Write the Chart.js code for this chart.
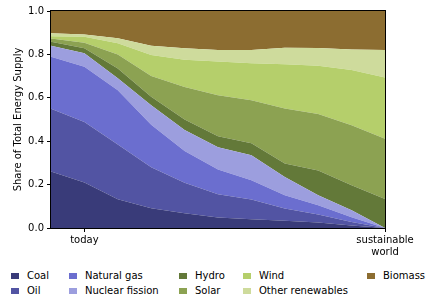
<!DOCTYPE html>
<html>
<head>
<meta charset="utf-8">
<script src="https://cdn.jsdelivr.net/npm/chart.js@4"></script>
<style>
  body { margin: 0; background: #fff; font-family: "DejaVu Sans", sans-serif; }
  #wrap { position: relative; width: 436px; height: 306px; }
  #chartBox { position: absolute; left: 0; top: 0; width: 436px; height: 260px; }
  #legend {
    position: absolute; left: 11px; top: 268px;
    display: grid; grid-template-columns: 58px 110px 64px 124px auto;
    grid-auto-flow: column; grid-template-rows: 15px 15px;
    font-size: 10px; color: #000;
  }
  .item { display: flex; align-items: center; white-space: nowrap; line-height: 15px; }
  .swatch { width: 8px; height: 6px; margin-right: 8px; flex: none; }
</style>
</head>
<body>
<div id="wrap">
  <div id="chartBox"><canvas id="energyChart"></canvas></div>
  <div id="legend"></div>
</div>
<script>
const steps = [0, 1, 2, 3, 4, 5, 6, 7, 8, 9, 10];
const tickPositions = [1, 10];
const tickLabels = ['today', ['sustainable', 'world']];

const sources = ['Coal', 'Oil', 'Natural gas', 'Nuclear fission', 'Hydro', 'Solar', 'Wind', 'Other renewables', 'Biomass'];

const coal     = [0.260, 0.210, 0.133, 0.091, 0.068, 0.048, 0.040, 0.033, 0.025, 0.012, 0.000];
const oil      = [0.290, 0.279, 0.252, 0.189, 0.140, 0.107, 0.091, 0.057, 0.037, 0.016, 0.000];
const gas      = [0.239, 0.254, 0.250, 0.196, 0.147, 0.115, 0.089, 0.061, 0.043, 0.022, 0.000];
const nuclear  = [0.051, 0.062, 0.055, 0.090, 0.097, 0.102, 0.115, 0.084, 0.046, 0.032, 0.000];
const hydro    = [0.018, 0.023, 0.045, 0.039, 0.048, 0.051, 0.055, 0.062, 0.114, 0.115, 0.134];
const solar    = [0.015, 0.026, 0.065, 0.095, 0.150, 0.189, 0.199, 0.254, 0.260, 0.277, 0.277];
const wind     = [0.011, 0.027, 0.051, 0.097, 0.125, 0.155, 0.170, 0.204, 0.223, 0.254, 0.282];
const other    = [0.013, 0.011, 0.023, 0.043, 0.053, 0.053, 0.061, 0.076, 0.082, 0.095, 0.127];
const biomass  = [0.103, 0.108, 0.126, 0.160, 0.172, 0.180, 0.180, 0.169, 0.170, 0.177, 0.180];

const seriesValues = [coal, oil, gas, nuclear, hydro, solar, wind, other, biomass];
const colors = ['#393b79', '#5254a3', '#6b6ecf', '#9c9ede', '#637939', '#8ca252', '#b5cf6b', '#cedb9c', '#8c6d31'];

const font = { family: '"DejaVu Sans", sans-serif', size: 10 };
Chart.defaults.color = '#000';

const frame = {
    id: 'frame',
    afterDraw(chart) {
        const a = chart.chartArea;
        const ctx = chart.ctx;
        ctx.save();
        ctx.strokeStyle = '#000';
        ctx.lineWidth = 1;
        ctx.strokeRect(Math.round(a.left) - 0.5, Math.round(a.top) - 0.5, Math.round(a.right - a.left) + 1, Math.round(a.bottom - a.top) + 1);
        ctx.restore();
    }
};

new Chart(document.getElementById('energyChart'), {
    type: 'line',
    data: {
        datasets: sources.map((name, i) => ({
            label: name,
            data: steps.map((x, j) => ({ x: x, y: seriesValues[i][j] })),
            fill: i === 0 ? 'origin' : '-1',
            backgroundColor: colors[i],
            borderColor: colors[i],
            borderWidth: 0,
            pointRadius: 0,
            tension: 0,
        })),
    },
    options: {
        responsive: true,
        maintainAspectRatio: false,
        animation: false,
        layout: { padding: { top: 11, right: 51, left: 0, bottom: 0 } },
        scales: {
            x: {
                type: 'linear',
                min: 0,
                max: 10,
                afterBuildTicks: scale => { scale.ticks = tickPositions.map(v => ({ value: v })); },
                afterFit: scale => { scale.height = 32; },
                grid: { drawOnChartArea: false, tickLength: 4, color: '#000' },
                border: { display: false },
                ticks: {
                    font: font,
                    padding: 2,
                    maxRotation: 0,
                    autoSkip: false,
                    callback: (v) => tickLabels[tickPositions.indexOf(v)],
                },
            },
            y: {
                stacked: true,
                min: 0,
                max: 1,
                afterFit: scale => { scale.width = 51; },
                grid: { drawOnChartArea: false, tickLength: 4, color: '#000' },
                border: { display: false },
                ticks: {
                    font: font,
                    stepSize: 0.2,
                    padding: 3,
                    callback: v => v.toFixed(1),
                },
                title: {
                    display: true,
                    text: 'Share of Total Energy Supply',
                    font: font,
                    padding: { top: 12, bottom: 0 },
                },
            },
        },
        plugins: {
            legend: { display: false },
            tooltip: { enabled: false },
        },
    },
    plugins: [frame],
});

const legend = document.getElementById('legend');
sources.forEach((name, i) => {
    const item = document.createElement('div');
    item.className = 'item';
    item.innerHTML = '<span class="swatch" style="background:' + colors[i] + '"></span>' + name;
    legend.appendChild(item);
});
</script>
</body>
</html>
